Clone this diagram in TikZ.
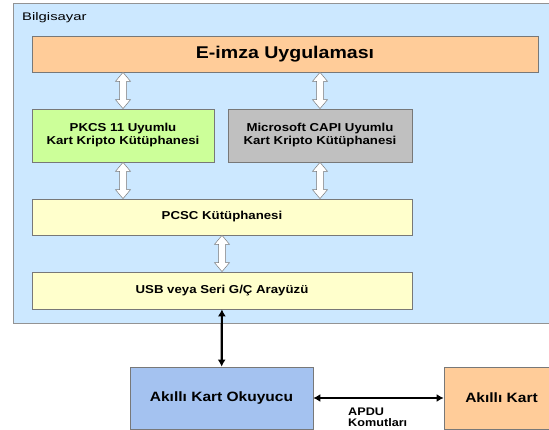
\documentclass[tikz,border=0pt]{standalone}
\usepackage{fontspec}
\setmainfont{Liberation Sans}[FakeStretch=1.15]
\newfontfamily\pcfont{Liberation Sans}[FakeStretch=1.35]
\usetikzlibrary{calc,arrows.meta}

\definecolor{pcblue}{RGB}{204,232,255}
\definecolor{apporange}{RGB}{255,204,153}
\definecolor{pkcsgreen}{RGB}{204,255,153}
\definecolor{capigray}{RGB}{192,192,192}
\definecolor{libyellow}{RGB}{255,255,204}
\definecolor{readerblue}{RGB}{164,194,240}
\definecolor{edgegray}{RGB}{120,120,120}

\tikzset{
 block/.style={draw=edgegray, line width=0.7pt, align=center, inner sep=2pt,
  font=\bfseries\fontsize{11.5}{13}\selectfont},
 hollow/.style={draw=edgegray, fill=white, line width=0.5pt, to path={
  -- ($(\tikztostart)+(7.5pt,9pt)$) -- ($(\tikztostart)+(3.5pt,9pt)$)
  -- ($(\tikztotarget)+(3.5pt,-9pt)$) -- ($(\tikztotarget)+(7.5pt,-9pt)$)
  -- (\tikztotarget) -- ($(\tikztotarget)+(-7.5pt,-9pt)$)
  -- ($(\tikztotarget)+(-3.5pt,-9pt)$) -- ($(\tikztostart)+(-3.5pt,9pt)$)
  -- ($(\tikztostart)+(-7.5pt,9pt)$) -- cycle}},
 link/.style={line width=2.2pt, {Latex[length=7pt,width=8pt]}-{Latex[length=7pt,width=8pt]}}
}

\begin{document}
\begin{tikzpicture}[x=1pt,y=-1pt]
 \useasboundingbox (0,0) rectangle (549,430);
 \node[draw=edgegray!80, fill=pcblue, line width=1pt, minimum width=546pt, minimum height=320pt] (b_pc) at (286,164) {};
 \node[anchor=base west, inner sep=0pt, font=\pcfont\fontsize{11}{13}\selectfont] (b_pc_label) at (22,20.5) {Bilgisayar};

 \node[block, fill=apporange, minimum width=506pt, minimum height=36pt, font=\bfseries\fontsize{17}{20}\selectfont] (b_app) at (285,54) {E-imza Uygulaması};
 \node[block, fill=pkcsgreen, minimum width=182pt, minimum height=53pt] (b_pkcs) at (123,135.5) {PKCS 11 Uyumlu\\Kart Kripto Kütüphanesi};
 \node[block, fill=capigray, minimum width=184pt, minimum height=53pt] (b_capi) at (320,135.5) {Microsoft CAPI Uyumlu\\Kart Kripto Kütüphanesi};
 \node[block, fill=libyellow, minimum width=380pt, minimum height=36pt] (b_pcsc) at (222,217) {PCSC Kütüphanesi};
 \node[block, fill=libyellow, minimum width=380pt, minimum height=37pt] (b_usb) at (222,290.5) {USB veya Seri G/Ç Arayüzü};

 \node[block, fill=readerblue, minimum width=183pt, minimum height=62pt, font=\bfseries\fontsize{13.5}{16}\selectfont] (b_reader) at (221.5,398) {Akıllı Kart Okuyucu};
 \node[block, fill=apporange, minimum width=115pt, minimum height=62pt, font=\bfseries\fontsize{13.5}{16}\selectfont] (b_card) at (501.5,398) {Akıllı Kart};
 \node[anchor=west, inner sep=0pt, align=left, font=\bfseries\fontsize{11}{11}\selectfont] (b_apdu) at (348,417) {APDU\\Komutları};

 \path
 (b_pkcs.north) edge [hollow] (b_app.south -| b_pkcs.north)
 (b_capi.north) edge [hollow] (b_app.south -| b_capi.north)
 (b_pcsc.north -| b_pkcs.south) edge [hollow] (b_pkcs.south)
 (b_pcsc.north -| b_capi.south) edge [hollow] (b_capi.south)
 (b_usb.north) edge [hollow] (b_pcsc.south);

 \draw[link] (b_usb) -- (b_reader);
 \draw[link] (b_reader) -- (b_card);
\end{tikzpicture}
\end{document}
